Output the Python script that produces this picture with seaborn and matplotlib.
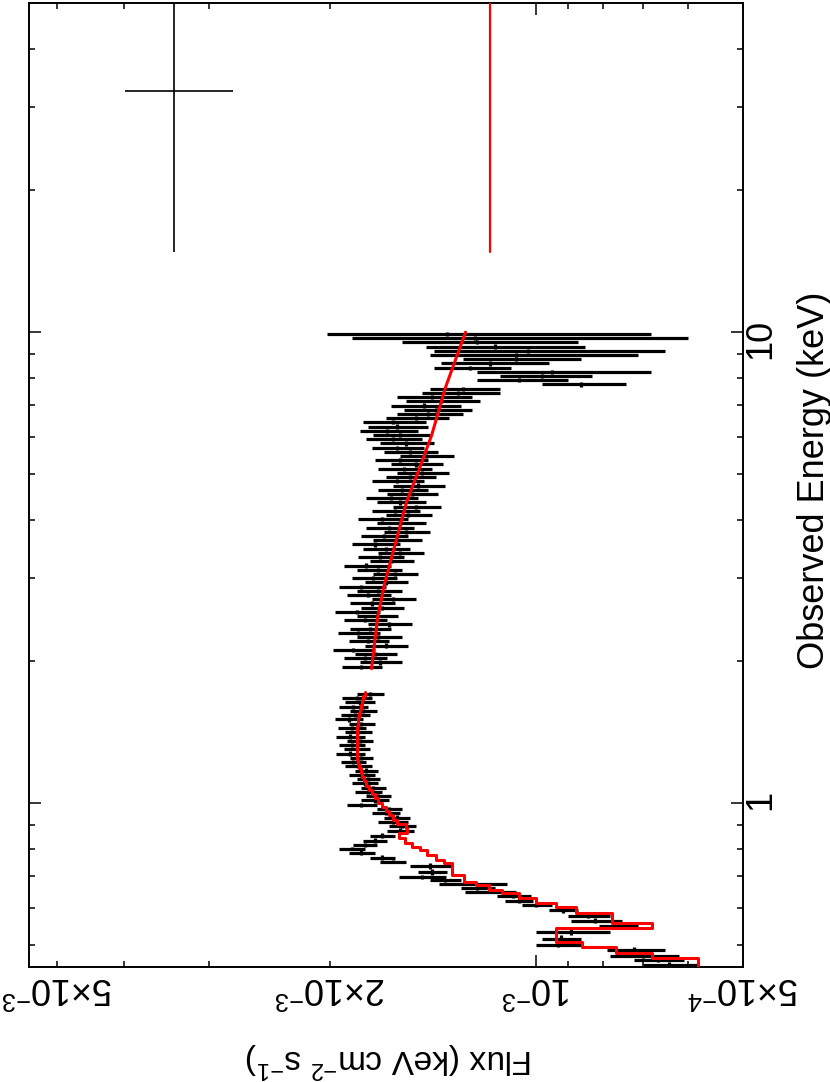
import numpy as np
import matplotlib
matplotlib.use("Agg")
import matplotlib.pyplot as plt
from matplotlib.ticker import FixedLocator, FixedFormatter, NullFormatter
import seaborn as sns

# ---------------- data (flux in units of 1e-3 keV cm^-2 s^-1) ----------------
# low-energy segment: bin edges (keV)
low_edges = [0.449, 0.459, 0.469, 0.480, 0.495, 0.507, 0.525, 0.543, 0.556, 0.570,
             0.584, 0.602, 0.614, 0.629, 0.644, 0.654, 0.670, 0.680, 0.692, 0.703,
             0.724, 0.746, 0.757, 0.776, 0.795, 0.807, 0.822, 0.843, 0.864, 0.885,
             0.904, 0.923, 0.942, 0.962, 0.982, 1.003, 1.024, 1.046, 1.068, 1.090,
             1.113, 1.137, 1.161, 1.185, 1.210, 1.236, 1.262, 1.288, 1.315, 1.343,
             1.371, 1.400, 1.430, 1.460, 1.491, 1.522, 1.554, 1.587, 1.620, 1.654,
             1.689, 1.720]
low_flux = [0.64, 0.665, 0.70, 0.72, 0.93, 0.92, 0.89, 0.76, 0.82, 0.84,
            0.914, 1.00, 1.06, 1.08, 1.17, 1.22, 1.245, 1.36, 1.47, 1.42,
            1.43, 1.62, 1.68, 1.80, 1.86, 1.78, 1.72, 1.68, 1.58,
            1.57, 1.62, 1.60, 1.66, 1.64, 1.80, 1.72, 1.70, 1.76, 1.73,
            1.78, 1.76, 1.80, 1.77, 1.82, 1.85, 1.80, 1.87, 1.83, 1.86,
            1.81, 1.87, 1.82, 1.86, 1.80, 1.88, 1.84, 1.79, 1.85, 1.81,
            1.83, 1.75]
low_err = [0.06, 0.055, 0.08, 0.07, 0.07, 0.06, 0.11, 0.05, 0.07, 0.06,
           0.043, 0.05, 0.05, 0.06, 0.10, 0.07, 0.14, 0.07, 0.115, 0.07,
           0.10, 0.07, 0.07, 0.08, 0.08, 0.07, 0.07, 0.07, 0.07,
           0.07, 0.08, 0.07, 0.08, 0.07, 0.09, 0.08, 0.07, 0.08, 0.07,
           0.08, 0.07, 0.08, 0.07, 0.08, 0.08, 0.07, 0.09, 0.08, 0.08,
           0.08, 0.09, 0.08, 0.09, 0.08, 0.09, 0.09, 0.08, 0.09, 0.09,
           0.09, 0.08]
low_model = [0.582, 0.582, 0.678, 0.765, 0.857, 0.935, 0.935, 0.678, 0.775, 0.775,
             0.874, 0.935, 1.000, 1.059, 1.121, 1.171, 1.223, 1.274, 1.274, 1.326,
             1.326, 1.362, 1.399, 1.442, 1.481, 1.521, 1.557, 1.584, 1.542,
             1.55, 1.60, 1.62, 1.64, 1.66, 1.68, 1.70, 1.72, 1.74, 1.755,
             1.77, 1.785, 1.795, 1.805, 1.815, 1.82, 1.825, 1.83, 1.83, 1.83,
             1.83, 1.83, 1.828, 1.825, 1.822, 1.82, 1.815, 1.81, 1.80, 1.795,
             1.79, 1.78]

# high-energy segment: bin edges (keV)
high_edges = [1.930, 1.970, 2.011, 2.053, 2.096, 2.139, 2.184, 2.229, 2.276, 2.323,
              2.371, 2.421, 2.471, 2.522, 2.575, 2.628, 2.683, 2.739, 2.796, 2.854,
              2.913, 2.974, 3.036, 3.099, 3.163, 3.229, 3.296, 3.364, 3.434, 3.506,
              3.579, 3.653, 3.729, 3.807, 3.886, 3.967, 4.049, 4.134, 4.220, 4.307,
              4.397, 4.488, 4.582, 4.677, 4.774, 4.874, 4.975, 5.079, 5.184, 5.292,
              5.402, 5.515, 5.629, 5.746, 5.866, 5.988, 6.112, 6.240, 6.369, 6.502,
              6.637, 6.775, 6.916, 7.060, 7.207, 7.357, 7.510, 7.666, 7.825, 7.988,
              8.154, 8.324, 8.497, 8.674, 8.854, 9.038, 9.226, 9.418, 9.614, 9.814,
              10.0]
high_flux = [1.80, 1.69, 1.78, 1.72, 1.85, 1.66, 1.76, 1.70, 1.82, 1.75,
             1.64, 1.78, 1.71, 1.83, 1.68, 1.74, 1.62, 1.76, 1.70, 1.80,
             1.66, 1.73, 1.61, 1.70, 1.77, 1.63, 1.69, 1.58, 1.66, 1.72,
             1.60, 1.67, 1.55, 1.64, 1.58, 1.68, 1.54, 1.61, 1.50, 1.58,
             1.63, 1.52, 1.57, 1.49, 1.60, 1.53, 1.47, 1.56, 1.50, 1.58,
             1.45, 1.53, 1.60, 1.55, 1.62, 1.58, 1.65, 1.60, 1.62, 1.50,
             1.44, 1.40, 1.46, 1.38, 1.42, 1.30, 1.28, 0.86, 1.06, 0.98,
             0.95, 1.25, 1.17, 1.07, 1.07, 1.03, 1.15, 1.22, 1.23, 1.35]
high_err = [0.12, 0.12, 0.13, 0.12, 0.13, 0.12, 0.12, 0.13, 0.13, 0.12,
            0.12, 0.13, 0.12, 0.14, 0.12, 0.13, 0.12, 0.13, 0.13, 0.14,
            0.12, 0.13, 0.12, 0.13, 0.14, 0.12, 0.13, 0.12, 0.13, 0.14,
            0.13, 0.13, 0.12, 0.13, 0.13, 0.14, 0.12, 0.13, 0.12, 0.13,
            0.14, 0.13, 0.13, 0.13, 0.14, 0.13, 0.13, 0.14, 0.13, 0.14,
            0.13, 0.14, 0.14, 0.14, 0.15, 0.15, 0.16, 0.16, 0.17, 0.16,
            0.16, 0.16, 0.17, 0.17, 0.18, 0.17, 0.15, 0.12, 0.16, 0.15,
            0.27, 0.16, 0.21, 0.21, 0.36, 0.38, 0.30, 0.35, 0.63, 0.67]
high_model_E = [1.93, 2.48, 2.93, 3.71, 4.36, 5.14, 6.04, 7.64, 10.0]
high_model_F = [1.740, 1.705, 1.665, 1.594, 1.547, 1.481, 1.422, 1.357, 1.269]

# hard X-ray point (single wide bin)
hx_E, hx_lo, hx_hi = 32.5, 14.8, 71.0
hx_flux, hx_err = 3.38, 0.61
hx_model = 1.17

x_major = [1e-3]
x_major_labels = [r"$10^{-3}$"]
x_minor = [5e-4, 6e-4, 7e-4, 8e-4, 9e-4, 2e-3, 3e-3, 4e-3, 5e-3]
x_minor_labels = [r"$5{\times}10^{-4}$", "", "", "", "", r"$2{\times}10^{-3}$", "", "",
                  r"$5{\times}10^{-3}$"]
y_major = [1, 10]
y_major_labels = ["1", "10"]
y_minor = [0.5, 0.6, 0.7, 0.8, 0.9, 2, 3, 4, 5, 6, 7, 8, 9, 20, 30, 40]

# ---------------- style ----------------
sns.set_theme(style="ticks")
plt.rcParams["font.family"] = ["Liberation Sans", "DejaVu Sans"]
plt.rcParams["mathtext.fontset"] = "custom"
plt.rcParams["mathtext.rm"] = "Liberation Sans"
plt.rcParams["mathtext.it"] = "Liberation Sans:italic"
plt.rcParams["mathtext.bf"] = "Liberation Sans:bold"

fig = plt.figure(figsize=(8.3, 10.82), dpi=100)
W, H = 830, 1082
ax = fig.add_axes([29 / W, 1 - 967 / H, 714 / W, 964 / H])
ax.set_facecolor("white")

scale = 1e-3


def bins(edges):
    e = np.asarray(edges)
    lo, hi = e[:-1], e[1:]
    c = np.sqrt(lo * hi)
    return lo, hi, c


# data points
for edges, flux, err in [(low_edges, low_flux, low_err), (high_edges, high_flux, high_err)]:
    lo, hi, c = bins(edges)
    ax.errorbar(np.asarray(flux) * scale, c, xerr=np.asarray(err) * scale,
                yerr=[c - lo, hi - c], fmt="none", ecolor="black",
                elinewidth=2.3, capsize=0, zorder=2)

ax.errorbar([hx_flux * scale], [hx_E], xerr=[hx_err * scale],
            yerr=[[hx_E - hx_lo], [hx_hi - hx_E]], fmt="none", ecolor="black",
            elinewidth=1.2, capsize=0, zorder=2)

# model: stepped in low-energy bins
lo, hi, c = bins(low_edges)
step_y = np.column_stack([lo, hi]).ravel()
step_x = np.repeat(np.asarray(low_model) * scale, 2)
sns.lineplot(x=step_x, y=step_y, sort=False, estimator=None, color="red",
             lw=2.2, ax=ax, legend=False, zorder=3)
sns.lineplot(x=np.asarray(high_model_F) * scale, y=high_model_E, sort=False,
             estimator=None, color="red", lw=2.2, ax=ax, legend=False, zorder=3)
sns.lineplot(x=[hx_model * scale, hx_model * scale], y=[hx_lo, hx_hi], sort=False,
             estimator=None, color="red", lw=1.6, ax=ax, legend=False, zorder=3)

# ---------------- axes ----------------
ax.set_xscale("log")
ax.set_yscale("log")
ax.set_xlim(5.5e-3, 4.995e-4)
ax.set_ylim(0.449, 50.0)

ax.xaxis.set_major_locator(FixedLocator(x_major))
ax.xaxis.set_major_formatter(FixedFormatter(x_major_labels))
ax.xaxis.set_minor_locator(FixedLocator(x_minor))
ax.xaxis.set_minor_formatter(FixedFormatter(x_minor_labels))
ax.yaxis.set_major_locator(FixedLocator(y_major))
ax.yaxis.set_major_formatter(FixedFormatter(y_major_labels))
ax.yaxis.set_minor_locator(FixedLocator(y_minor))
ax.yaxis.set_minor_formatter(NullFormatter())

ax.tick_params(which="both", direction="in", top=True, bottom=True, left=True,
               right=True, labelleft=False, labelright=True, labeltop=False,
               labelbottom=True, colors="black", labelsize=26, width=1.1)
ax.tick_params(which="major", length=8.5)
ax.tick_params(which="minor", length=4.5)
ax.tick_params(axis="x", which="both", labelrotation=180, pad=1.5)
ax.tick_params(axis="y", which="both", labelrotation=90, pad=0)

for s in ax.spines.values():
    s.set_linewidth(1.4)
    s.set_color("black")
    s.set_visible(True)

ax.set_xlabel(r"Flux (keV cm$^{-2}$ s$^{-1}$)", fontsize=24, rotation=180,
              color="black")
ax.xaxis.label.set_va("center")
ax.xaxis.label.set_ha("center")
ax.xaxis.set_label_coords((389 - 29) / 714, (967 - 1060) / 964)

ax.yaxis.set_label_position("right")
ax.set_ylabel("Observed Energy (keV)", fontsize=26, rotation=90, color="black")
ax.yaxis.label.set_va("center")
ax.yaxis.label.set_ha("center")
ax.yaxis.set_label_coords((814 - 29) / 714, (967 - 480) / 964)

ax.grid(False)
fig.savefig("out.png", dpi=100, facecolor="white")
